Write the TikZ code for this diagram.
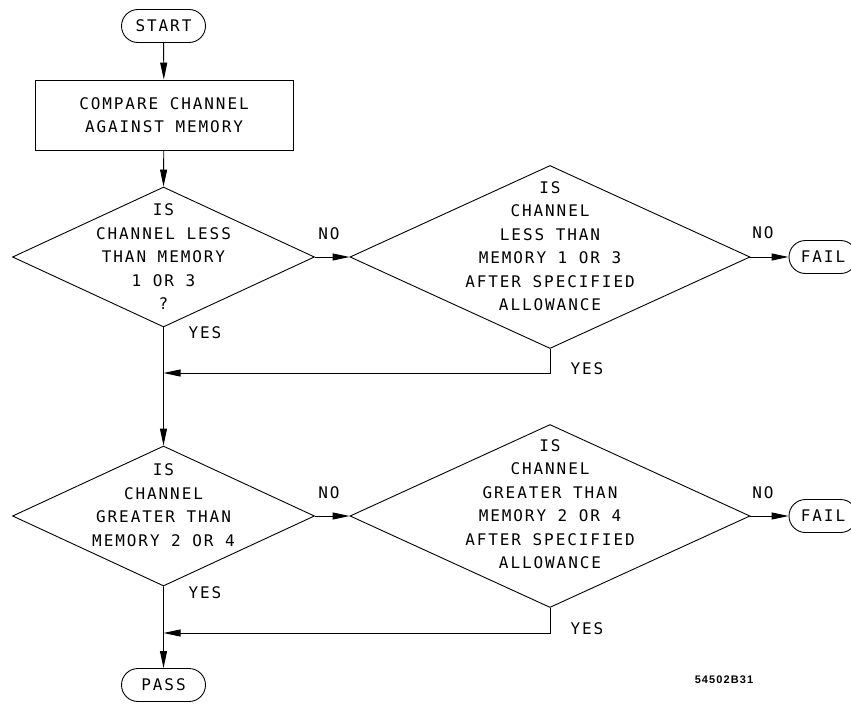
\documentclass[tikz,border=0pt]{standalone}
\usepackage{fontspec}
\usetikzlibrary{arrows.meta,shapes.geometric,shapes.misc}
\newfontfamily\plotfont{DejaVu Sans Mono}[LetterSpace=12]
\newfontfamily\idfont{Liberation Sans}[LetterSpace=10]
\newcommand\plotf{\plotfont\fontsize{16}{23.5}\selectfont}
\newcommand\idf{\idfont\bfseries\fontsize{11}{13}\selectfont}
\begin{document}
\begin{tikzpicture}[x=1pt,y=-1pt,
  every node/.style={font=\plotf},
  arr/.style={line width=0.9pt,-{Triangle[length=17pt,width=7pt]}},
  term/.style={draw,line width=0.9pt,rounded rectangle,minimum width=84pt,minimum height=33pt,inner sep=0pt},
  proc/.style={draw,line width=0.9pt,rectangle,minimum width=258pt,minimum height=70pt,inner sep=0pt,align=center},
  dec/.style={draw,line width=0.9pt,diamond,inner sep=0pt},
  smalldec/.style={dec,minimum width=302pt,minimum height=140pt},
  bigdec/.style={dec,minimum width=400pt,minimum height=183pt},
  txt/.style={align=center,inner sep=0pt},
  lbl/.style={inner sep=0pt}]
\useasboundingbox (0,0) rectangle (851,704);

% nodes
\node[term] (start) at (163.5,26) {START};
\node[proc] (cmp) at (164,115) {COMPARE CHANNEL\\AGAINST MEMORY};

\node[smalldec] (d1) at (163.5,257) {};
\node[txt] (d1t) at (163.5,257) {IS\\CHANNEL LESS\\THAN MEMORY\\1 OR 3\\?};

\node[bigdec] (d2) at (550,257) {};
\node[txt] (d2t) at (550,246) {IS\\CHANNEL\\LESS THAN\\MEMORY 1 OR 3\\AFTER SPECIFIED\\ALLOWANCE};

\node[term,minimum width=68pt] (f1) at (823,257) {FAIL};

\node[smalldec] (d3) at (163.5,516) {};
\node[txt] (d3t) at (163.5,505) {IS\\CHANNEL\\GREATER THAN\\MEMORY 2 OR 4};

\node[bigdec] (d4) at (550,516) {};
\node[txt] (d4t) at (550,504) {IS\\CHANNEL\\GREATER THAN\\MEMORY 2 OR 4\\AFTER SPECIFIED\\ALLOWANCE};

\node[term,minimum width=68pt] (f2) at (823,516) {FAIL};

\node[term] (pass) at (163.5,685) {PASS};

\coordinate (j1) at (163.5,373);
\coordinate (j2) at (163.5,633);

% labels
\node[lbl] (no1) at (329,234) {NO};
\node[lbl] (no2) at (763,233) {NO};
\node[lbl] (yes1) at (205,333) {YES};
\node[lbl] (yes2) at (587,369) {YES};
\node[lbl] (no3) at (329,493) {NO};
\node[lbl] (no4) at (763,493) {NO};
\node[lbl] (yes3) at (205,593) {YES};
\node[lbl] (yes4) at (587,629) {YES};
\node[lbl,font=\idf] (id) at (724,680) {54502B31};

% connectors
\draw[arr] (start) -- (cmp);
\draw[arr] (cmp) -- (d1.north);
\draw[arr] (d1.east) -- (d2.west);
\draw[arr] (d2.east) -- (f1.west);
\draw[arr] (d2.south) |- (j1);
\draw[arr] (d1.south) -- (d3.north);
\draw[arr] (d3.east) -- (d4.west);
\draw[arr] (d4.east) -- (f2.west);
\draw[arr] (d4.south) |- (j2);
\draw[arr] (d3.south) -- (pass);
\end{tikzpicture}
\end{document}
